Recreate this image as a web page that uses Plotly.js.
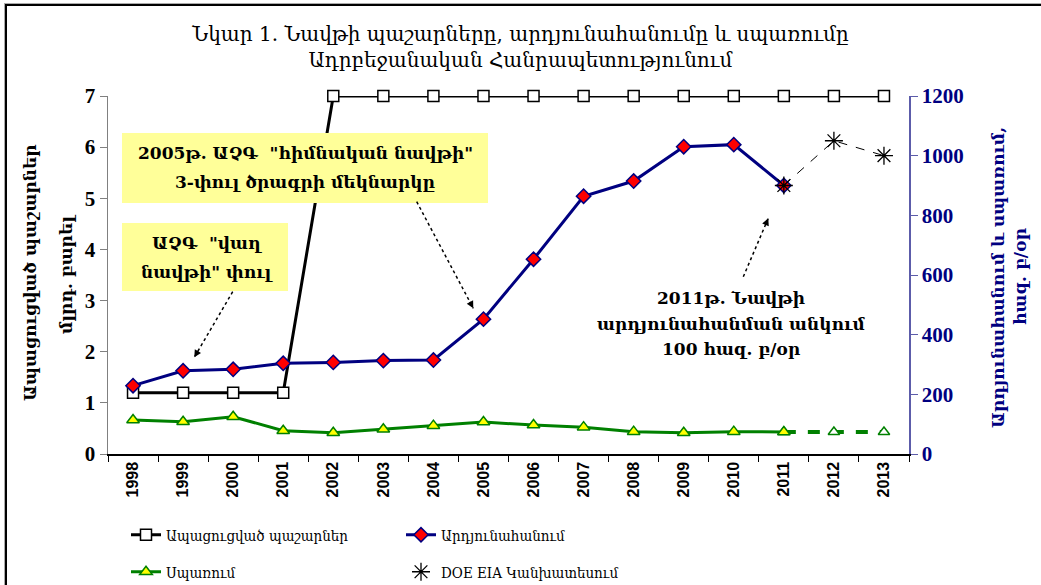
<!DOCTYPE html>
<html><head><meta charset="utf-8">
<script src="https://cdn.plot.ly/plotly-3.0.1.min.js"></script>
<style>
html,body{margin:0;padding:0;background:#fff;overflow:hidden;}
#chart{width:1041px;height:585px;position:absolute;left:0;top:0;}
#frame{position:absolute;left:5px;top:4px;width:1100px;height:700px;border-left:2px solid #000;border-top:2px solid #000;box-shadow:-1px -1px 0 #aaa;pointer-events:none;}
</style></head><body>
<div id="chart"></div><div id="frame"></div>
<script>
// ---- data ----
const years = ['1998','1999','2000','2001','2002','2003','2004','2005','2006','2007','2008','2009','2010','2011','2012','2013'];
const reserves = [1.2,1.2,1.2,1.2,7,7,7,7,7,7,7,7,7,7,7,7];
const productionYears = ['1998','1999','2000','2001','2002','2003','2004','2005','2006','2007','2008','2009','2010','2011'];
const production = [229,279,284,304,307,313,315,452,653,864,915,1030,1037,900];
const consumptionYears = ['1998','1999','2000','2001','2002','2003','2004','2005','2006','2007','2008','2009','2010','2011'];
const consumption = [114,108,125,78,71,83,95,107,97,90,75,71,75,74];
const consumptionForecastYears = ['2011','2012','2013'];
const consumptionForecast = [74,74,74];
const doeYears = ['2011','2012','2013'];
const doeForecast = [900,1050,1000];
const seriesNames = ['Ապացուցված պաշարներ','Արդյունահանում','Սպառում','DOE EIA Կանխատեսում'];

const ARM = 'DejaVu Serif';
const ARMC = '"DejaVu Serif Condensed", "DejaVu Serif"';
const NUM = 'Liberation Serif';

const traces = [
  {x: years, y: reserves, name: seriesNames[0], mode: 'lines+markers', yaxis: 'y', legend: 'legend', cliponaxis: false,
   line: {color: '#000', width: 3}, marker: {symbol: 'square', size: 11, color: '#fff', line: {color: '#000', width: 1.5}}},
  {x: productionYears, y: production, name: seriesNames[1], mode: 'lines+markers', yaxis: 'y2', legend: 'legend', cliponaxis: false,
   line: {color: '#000080', width: 3}, marker: {symbol: 'diamond', size: 11, color: '#ff0000', line: {color: '#000080', width: 1.5}}},
  {x: consumptionForecastYears, y: consumptionForecast, name: seriesNames[2], mode: 'lines+markers', yaxis: 'y2', showlegend: false, cliponaxis: false,
   line: {color: '#008000', width: 4, dash: 'dash'}, marker: {symbol: 'triangle-up', size: 10, color: '#fff', line: {color: '#008000', width: 1.5}}},
  {x: consumptionYears, y: consumption, name: seriesNames[2], mode: 'lines+markers', yaxis: 'y2', legend: 'legend2', cliponaxis: false,
   line: {color: '#008000', width: 3}, marker: {symbol: 'triangle-up', size: 11, color: '#ffff00', line: {color: '#008000', width: 1.5}}},
  {x: doeYears, y: doeForecast, name: seriesNames[3], mode: 'lines', yaxis: 'y2', showlegend: false,
   line: {color: '#000', width: 1, dash: 'dash'}},
  {x: doeYears, y: doeForecast, name: seriesNames[3], mode: 'markers', yaxis: 'y2', legend: 'legend2', cliponaxis: false,
   marker: {symbol: 'asterisk-open', size: 15, color: '#000', line: {color: '#000', width: 1.3}}}
];

// helpers for paper coordinates
const PL = 108, PW = 801, PT = 96, PH = 358;
const px = v => (v - PL) / PW;
const py = v => (PT + PH - v) / PH;

function txt(x, y, text, size, color, angle) {
  return {xref: 'paper', yref: 'paper', x: px(x), y: py(y), text: text, showarrow: false,
    xanchor: 'center', yanchor: 'middle', textangle: angle || 0,
    font: {family: ARM, size: size, color: color || '#000', weight: 'bold'}};
}
function head(tx, ty, sx, sy) {
  const dx = sx - tx, dy = sy - ty, L = Math.hypot(dx, dy);
  return {xref: 'paper', yref: 'paper', x: px(tx), y: py(ty), ax: dx / L * 9, ay: dy / L * 9,
    text: '', showarrow: true, arrowhead: 2, arrowsize: 1.1, arrowwidth: 1.3, arrowcolor: '#000'};
}
function dotted(sx, sy, tx, ty) {
  return {type: 'line', xref: 'paper', yref: 'paper', x0: px(sx), y0: py(sy), x1: px(tx), y1: py(ty),
    line: {color: '#000', width: 1.5, dash: 'dot'}, layer: 'above'};
}
function valLabel(xv, yv, color, xs, ys) {
  return {xref: 'x', yref: 'y2', x: xv, y: yv, text: String(yv), showarrow: false, xshift: xs, yshift: ys,
    font: {family: NUM, size: 21, color: color, weight: 'bold'}};
}

const annotations = [
  // axis titles
  txt(30, 273, 'Ապացուցված պաշարներ', 17, '#000', -90),
  txt(66, 274, 'մլրդ. բարել', 17, '#000', -90),
  txt(998, 278, 'Արդյունահանում և սպառում,', 17, '#000080', -90),
  txt(1020, 276, 'հազ. բ/օր', 17, '#000080', -90),
  // boxes text
  txt(305, 153, '2005թ. ԱՉԳ  "հիմնական նավթի"', 17),
  txt(305, 182, '3-փուլ ծրագրի մեկնարկը', 17),
  txt(207, 243, 'ԱՉԳ  "վաղ', 17),
  txt(207, 272, 'նավթի" փուլ', 17),
  // note
  txt(731, 298, '2011թ. Նավթի', 17),
  txt(731, 324, 'արդյունահանման անկում', 17),
  txt(731, 349, '100 հազ. բ/օր', 17),
  // arrowheads
  head(194.3, 357.3, 232.7, 291.7),
  head(473.3, 308.3, 416.7, 201.7),
  head(768.3, 218.3, 743.3, 276.7),
  // value labels
  valLabel(productionYears[10], production[10], '#ff0000', -17, 18),
  valLabel(productionYears[12], production[12], '#ff0000', -3, 15),
  valLabel(productionYears[13], production[13], '#ff0000', -2, -22),
  valLabel(consumptionYears[13], consumption[13], '#008000', 2, 32)
];

const shapes = [
  {type: 'rect', xref: 'paper', yref: 'paper', x0: px(122), x1: px(488), y0: py(203), y1: py(133),
   fillcolor: '#ffff99', line: {width: 0}, layer: 'above'},
  {type: 'rect', xref: 'paper', yref: 'paper', x0: px(122), x1: px(288), y0: py(291), y1: py(223),
   fillcolor: '#ffff99', line: {width: 0}, layer: 'above'},
  dotted(232.7, 291.7, 194.3, 357.3),
  dotted(416.7, 201.7, 473.3, 308.3),
  dotted(743.3, 276.7, 768.3, 218.3)
];

const legendBase = {orientation: 'h', xanchor: 'left', yanchor: 'middle', xref: 'container', yref: 'container',
  x: 126 / 1041, entrywidth: 230, entrywidthmode: 'pixels', bgcolor: 'rgba(0,0,0,0)',
  font: {family: ARMC, size: 15, color: '#000'}};

const layout = {
  width: 1041, height: 585,
  margin: {l: PL, r: 1041 - PL - PW, t: PT, b: 585 - PT - PH, pad: 0, autoexpand: false},
  paper_bgcolor: '#fff', plot_bgcolor: '#fff',
  title: {text: 'Նկար 1. Նավթի պաշարները, արդյունահանումը և սպառումը<br>Ադրբեջանական Հանրապետությունում',
    font: {family: ARM, size: 20, color: '#000'}, x: 0.5, xanchor: 'center', xref: 'container',
    y: 1 - 41 / 585, yanchor: 'middle', yref: 'container'},
  xaxis: {type: 'category', range: [-0.5, 15.5], tickson: 'boundaries', ticks: 'outside', ticklen: 6,
    tickcolor: '#000', showline: true, linecolor: '#000', linewidth: 1.5, showgrid: false, zeroline: false,
    tickangle: -90, tickfont: {family: 'Liberation Sans', size: 16, color: '#000', weight: 'bold'}},
  yaxis: {range: [0, 7], dtick: 1, ticks: 'outside', ticklen: 7, tickcolor: '#808080', showline: true,
    linecolor: '#808080', linewidth: 1.5, showgrid: false, zeroline: false,
    tickfont: {family: NUM, size: 21, color: '#000', weight: 'bold'}},
  yaxis2: {overlaying: 'y', side: 'right', range: [0, 1200], dtick: 200, ticks: 'outside', ticklen: 7,
    tickcolor: '#5c5caa', showline: true, linecolor: '#5c5caa', linewidth: 1.5, showgrid: false, zeroline: false,
    tickfont: {family: NUM, size: 21, color: '#000080', weight: 'bold'}},
  legend: Object.assign({}, legendBase, {y: 1 - 535 / 585}),
  legend2: Object.assign({}, legendBase, {y: 1 - 572 / 585}),
  annotations: annotations,
  shapes: shapes
};

Plotly.newPlot('chart', traces, layout, {displayModeBar: false, staticPlot: true});
</script>
</body></html>
